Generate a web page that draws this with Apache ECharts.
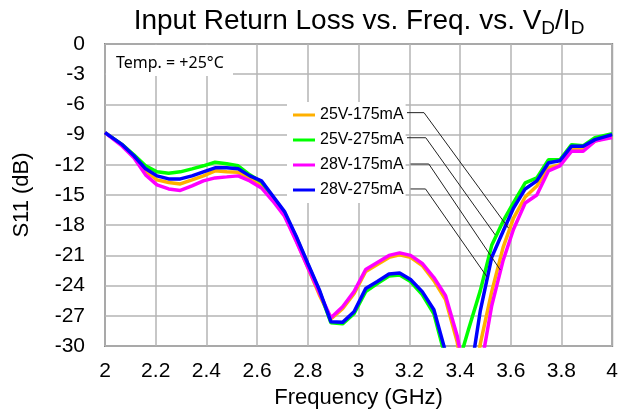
<!DOCTYPE html>
<html>
<head>
<meta charset="utf-8">
<script src="https://cdn.jsdelivr.net/npm/echarts@6/dist/echarts.min.js"></script>
<style>
  html, body { margin: 0; padding: 0; background: #fff; }
  #chart { width: 621px; height: 416px; }
</style>
</head>
<body>
<div id="chart"></div>
<script>
// frequency points (GHz)
const freq = [2.0, 2.068, 2.114, 2.16, 2.205, 2.251, 2.297, 2.343, 2.388, 2.434,
  2.48, 2.525, 2.571, 2.617, 2.662, 2.708, 2.754, 2.8, 2.845, 2.891,
  2.937, 2.982, 3.028, 3.074, 3.12, 3.162, 3.205, 3.251, 3.297, 3.343,
  3.389, 3.434, 3.48, 3.525, 3.57, 3.611, 3.657, 3.703, 3.749, 3.794,
  3.84, 3.886, 3.932, 4.0]

const seriesNames = ['25V-175mA', '25V-275mA', '28V-175mA', '28V-275mA']

// S11 (dB)
const s25v175 = [-8.8, -10.05, -11.2, -12.6, -13.5, -13.75, -13.9, -13.5, -13.1, -12.6,
  -12.7, -12.75, -13.3, -14.0, -15.4, -17.0, -19.5, -22.2, -24.9, -27.3,
  -26.3, -24.8, -22.6, -21.9, -21.2, -20.95, -21.2, -22.0, -23.5, -25.4,
  -29.6, -37, -29.8, -24.6, -20.2, -17.3, -15.2, -14.1, -12.3, -12.0,
  -10.5, -10.5, -9.65, -9.15]
const s25v275 = [-8.8, -10.0, -11.0, -12.1, -12.7, -12.85, -12.7, -12.4, -12.1, -11.75,
  -11.9, -12.1, -13.0, -13.7, -15.2, -16.8, -19.2, -21.9, -24.5, -27.7,
  -27.8, -26.8, -24.6, -23.8, -23.05, -22.95, -23.6, -24.9, -26.8, -31.2,
  -32.2, -28.3, -24.5, -20.0, -17.6, -15.75, -13.8, -13.3, -11.5, -11.5,
  -10.0, -10.1, -9.3, -8.9]
const s28v175 = [-8.8, -10.15, -11.3, -13.0, -14.0, -14.4, -14.55, -14.1, -13.6, -13.3,
  -13.2, -13.1, -13.6, -14.3, -15.6, -17.1, -19.6, -22.2, -24.7, -27.2,
  -26.1, -24.6, -22.4, -21.7, -21.0, -20.75, -21.0, -21.8, -23.2, -25.0,
  -29.0, -35, -32.5, -26.0, -21.5, -18.4, -15.8, -15.0, -12.6, -12.1,
  -10.65, -10.65, -9.65, -9.3]
const s28v275 = [-8.8, -10.0, -11.1, -12.4, -13.1, -13.4, -13.4, -13.1, -12.7, -12.3,
  -12.3, -12.4, -13.1, -13.6, -15.1, -16.65, -19.1, -21.8, -24.4, -27.6,
  -27.65, -26.6, -24.3, -23.6, -22.85, -22.75, -23.4, -24.6, -26.4, -30.6,
  -36, -34, -26.5, -21.2, -18.6, -16.3, -14.4, -13.6, -11.8, -11.6,
  -10.15, -10.15, -9.5, -9.0]

// leader lines from legend labels to curves, in data units
const leaders = [
  [[3.191, -6.82], [3.258, -6.82], [3.591, -18.28]],
  [[3.191, -9.31], [3.265, -9.31], [3.539, -18.97]],
  [[3.205, -11.92], [3.277, -11.92], [3.559, -22.45]],
  [[3.205, -14.4], [3.264, -14.4], [3.506, -23.12]]
]

const colors = ['#ffb000', '#00ff00', '#ff00ff', '#0000ff']
const values = [s25v175, s25v275, s28v175, s28v275]
const font = 'Liberation Sans, Arial, sans-serif'

const chart = echarts.init(document.getElementById('chart'))

const curveSeries = seriesNames.map(function (name, i) {
  return {
    name: name,
    type: 'line',
    data: freq.map(function (f, k) { return [f, values[i][k]] }),
    symbol: 'none',
    color: colors[i],
    lineStyle: { width: 3.5, color: colors[i] },
    clip: true,
    animation: false,
    z: 3
  }
})

const leaderSeries = leaders.map(function (pts) {
  return {
    type: 'line',
    data: pts,
    symbol: 'none',
    silent: true,
    lineStyle: { width: 1, color: '#222' },
    animation: false,
    z: 5
  }
})

chart.setOption({
  title: {
    text: '{t|Input Return Loss vs. Freq. vs. V}{s|D}{t|/I}{s|D}',
    left: 359,
    textAlign: 'center',
    top: 4,
    padding: 0,
    textStyle: {
      fontWeight: 'normal',
      rich: {
        t: { fontSize: 28, fontFamily: font, fontWeight: 'normal', color: '#000', lineHeight: 34 },
        s: { fontSize: 19, fontFamily: font, fontWeight: 'normal', color: '#000', lineHeight: 16, verticalAlign: 'bottom' }
      }
    }
  },
  grid: {
    left: 105,
    right: 7,
    top: 44,
    bottom: 70,
    show: true,
    borderColor: '#868686',
    borderWidth: 2
  },
  legend: {
    data: seriesNames,
    orient: 'vertical',
    left: 287,
    top: 102,
    padding: [4, 2, 4, 6],
    backgroundColor: '#fff',
    icon: 'rect',
    itemWidth: 22,
    itemHeight: 3,
    itemGap: 7,
    textStyle: { fontSize: 16, fontFamily: font, color: '#000', lineHeight: 18 }
  },
  xAxis: {
    type: 'value',
    min: 2,
    max: 4,
    interval: 0.2,
    name: 'Frequency (GHz)',
    nameLocation: 'middle',
    nameGap: 36,
    nameTextStyle: { fontSize: 22, fontFamily: font, color: '#000' },
    axisLine: { show: false },
    axisTick: { show: false },
    axisLabel: {
      fontSize: 21,
      fontFamily: font,
      color: '#000',
      margin: 15,
      formatter: function (v) { return String(+v.toFixed(1)) }
    },
    splitLine: { lineStyle: { color: '#b4b4b4', width: 1.5 } }
  },
  yAxis: {
    type: 'value',
    min: -30,
    max: 0,
    interval: 3,
    name: 'S11 (dB)',
    nameLocation: 'middle',
    nameGap: 72,
    nameTextStyle: { fontSize: 22, fontFamily: font, color: '#000' },
    axisLine: { show: false },
    axisTick: { show: false },
    axisLabel: { fontSize: 21, fontFamily: font, color: '#000', margin: 20 },
    splitLine: { lineStyle: { color: '#b4b4b4', width: 1.5 } }
  },
  graphic: [
    {
      type: 'rect',
      left: 106,
      top: 45,
      shape: { width: 127, height: 31 },
      style: { fill: '#fff' },
      z: 10
    },
    {
      type: 'text',
      left: 116,
      top: 55,
      style: { text: 'Temp. = +25\u00b0C', fill: '#000', font: '16px "Noto Sans", sans-serif' },
      z: 11
    }
  ],
  series: curveSeries.concat(leaderSeries)
})
</script>
</body>
</html>
